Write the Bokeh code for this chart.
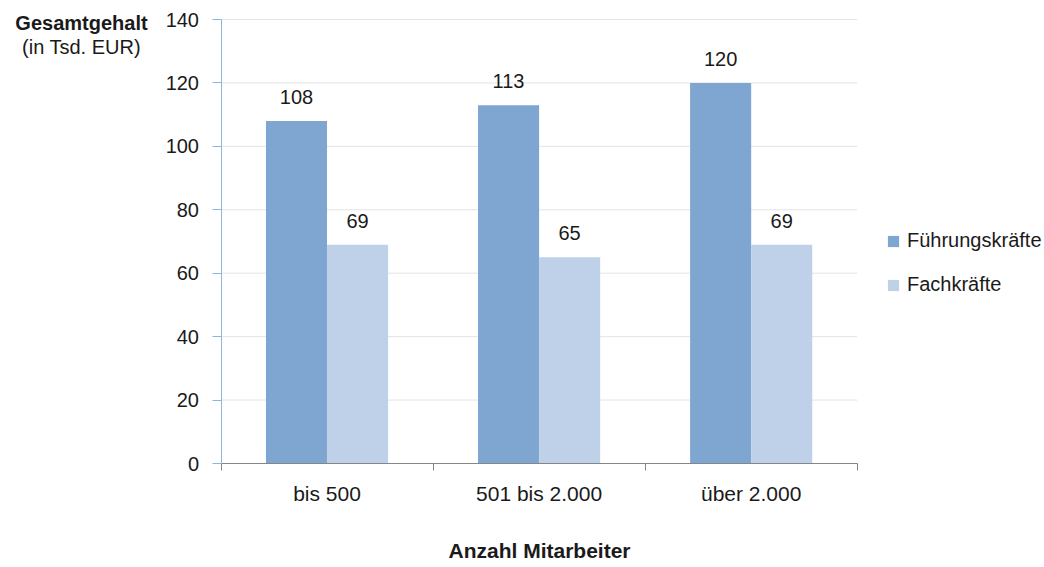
from bokeh.plotting import figure
from bokeh.models import (ColumnDataSource, Range1d, LinearAxis,
                          FixedTicker, Legend, LegendItem, LabelSet, Label)
from bokeh.transform import dodge
from bokeh.core.properties import value
from bokeh.embed import file_html
from bokeh.resources import INLINE

# ---- data ----
categories = ["bis 500", "501 bis 2.000", "über 2.000"]
fuehrungskraefte = [108, 113, 120]
fachkraefte = [69, 65, 69]
series_names = ["Führungskräfte", "Fachkräfte"]
y_ticks = [0, 20, 40, 60, 80, 100, 120, 140]
y_title = ["Gesamtgehalt", "(in Tsd. EUR)"]
x_title = "Anzahl Mitarbeiter"

# ---- style / layout ----
FONT = "Liberation Sans"
FS = "20px"
FS_X = "21px"
TXT = "#1a1a1a"
C1 = "#7FA5D1"
C2 = "#BFD1E9"
BAR_W = 0.288
W, H = 1044, 567
AX_LEFT, AX_RIGHT, AX_TOP, AX_BOTTOM = 220.5, 856.7, 19.0, 463.0   # plotting box in pixels

n = len(categories)
y_max = y_ticks[-1]
px_x = (AX_RIGHT - AX_LEFT) / n
px_y = (AX_BOTTOM - AX_TOP) / y_max
x_lo, x_hi = -AX_LEFT / px_x, (W - AX_LEFT) / px_x
y_lo, y_hi = -(H - AX_BOTTOM) / px_y, AX_BOTTOM / px_y

centers = [i + 0.5 for i in range(n)]

src = ColumnDataSource(dict(
    xc=centers,
    f=fuehrungskraefte,
    c=fachkraefte,
    f_lbl=[str(v) for v in fuehrungskraefte],
    c_lbl=[str(v) for v in fachkraefte],
))
grid_src = ColumnDataSource(dict(y=y_ticks, x0=[0] * len(y_ticks), x1=[n] * len(y_ticks)))

p = figure(width=W, height=H,
           x_range=Range1d(x_lo, x_hi), y_range=Range1d(y_lo, y_hi),
           output_backend="svg", toolbar_location=None,
           x_axis_location=None, y_axis_location=None,
           min_border=0)
p.outline_line_color = None
p.background_fill_color = "white"
p.border_fill_color = "white"
p.xgrid.visible = False
p.ygrid.visible = False

# horizontal grid lines
p.segment(x0="x0", x1="x1", y0="y", y1="y", source=grid_src,
          line_color="#E4E4E4", line_width=1)

r1 = p.vbar(x=dodge("xc", -BAR_W / 2), top="f", width=BAR_W,
            source=src, fill_color=C1, line_color=None)
r2 = p.vbar(x=dodge("xc", BAR_W / 2), top="c", width=BAR_W,
            source=src, fill_color=C2, line_color=None)

for col, lbl, off in (("f", "f_lbl", -BAR_W / 2), ("c", "c_lbl", BAR_W / 2)):
    p.add_layout(LabelSet(x=dodge("xc", off), y=col, text=lbl, source=src,
                          text_align="center", text_baseline="alphabetic", y_offset=17,
                          text_font=value(FONT), text_font_size=value(FS),
                          text_color=TXT))

# y axis (fixed at x = 0)
ya = LinearAxis(fixed_location=0, bounds=(0, y_max),
                ticker=FixedTicker(ticks=y_ticks),
                axis_line_color="#8DB4E2", major_tick_line_color="#8DB4E2",
                major_tick_out=9, major_tick_in=0, minor_tick_line_color=None,
                major_label_text_font=FONT, major_label_text_font_size=FS,
                major_label_text_color=TXT, major_label_standoff=13)
p.add_layout(ya, "left")

# x axis: boundary ticks (fixed at y = 0)
bound_axis = LinearAxis(fixed_location=0, bounds=(0, n),
                        ticker=FixedTicker(ticks=list(range(n + 1))),
                        axis_line_color="#868686", major_tick_line_color="#868686",
                        major_tick_out=7, major_tick_in=0, minor_tick_line_color=None,
                        major_label_overrides={i: "" for i in range(n + 1)},
                        major_label_text_font_size="1px", major_label_text_color=None,
                        major_label_standoff=0)
p.add_layout(bound_axis, "below")

# x axis: category labels
cat_axis = LinearAxis(fixed_location=0, bounds=(0, n),
                      ticker=FixedTicker(ticks=centers),
                      major_label_overrides={c: lab for c, lab in zip(centers, categories)},
                      axis_line_color=None, major_tick_line_color=None,
                      major_tick_out=0, major_tick_in=0,
                      minor_tick_line_color=None,
                      major_label_text_font=FONT, major_label_text_font_size=FS_X,
                      major_label_text_color=TXT, major_label_standoff=18,
                      axis_label=x_title, axis_label_text_font=FONT,
                      axis_label_text_font_size=FS_X, axis_label_text_font_style="bold",
                      axis_label_text_color=TXT, axis_label_standoff=31)
p.add_layout(cat_axis, "below")

# y title
tx = (81 - AX_LEFT) / px_x
p.add_layout(Label(x=tx, y=(AX_BOTTOM - 22) / px_y, text=y_title[0], text_align="center",
                   text_baseline="alphabetic", text_font=FONT, text_font_size=FS,
                   text_font_style="bold", text_color=TXT))
p.add_layout(Label(x=tx, y=(AX_BOTTOM - 46.5) / px_y, text=y_title[1], text_align="center",
                   text_baseline="alphabetic", text_font=FONT, text_font_size=FS,
                   text_color=TXT))

legend = Legend(items=[LegendItem(label=series_names[0], renderers=[r1]),
                       LegendItem(label=series_names[1], renderers=[r2])],
                location=(886, 271), glyph_width=14, glyph_height=14,
                label_text_font=FONT, label_text_font_size=FS, label_text_color=TXT,
                label_standoff=7, spacing=21, padding=0, margin=0,
                border_line_color=None, background_fill_alpha=0)
p.add_layout(legend)

open("out.html", "w").write(file_html(p, INLINE))
